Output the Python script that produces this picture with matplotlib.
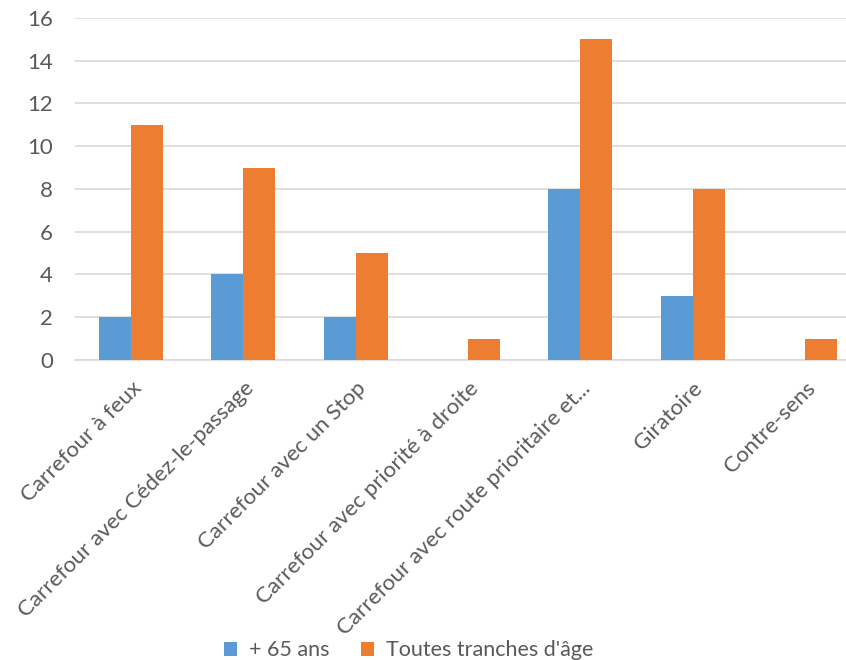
import numpy as np
import matplotlib
matplotlib.use("Agg")
import matplotlib.pyplot as plt

categories = ["Carrefour à feux", "Carrefour avec Cédez-le-passage", "Carrefour avec un Stop",
              "Carrefour avec priorité à droite", "Carrefour avec route prioritaire et...",
              "Giratoire", "Contre-sens"]
seniors = [2, 4, 2, 0, 8, 3, 0]
all_ages = [11, 9, 5, 1, 15, 8, 1]
series_names = ["+ 65 ans", "Toutes tranches d'âge"]
y_ticks = [0, 2, 4, 6, 8, 10, 12, 14, 16]

plt.rcParams['font.family'] = ['Lato', 'DejaVu Sans']
text_color = '#595959'

fig = plt.figure(figsize=(8.46, 6.6), dpi=100)
ax = fig.add_axes([0.0887, 0.4545, 0.929, 0.5185])

x = np.arange(len(categories))
w = 0.285
ax.bar(x - w / 2, seniors, w, color='#5B9BD5', label=series_names[0], zorder=3)
ax.bar(x + w / 2, all_ages, w, color='#ED7D31', label=series_names[1], zorder=3)

ax.set_xlim(-0.5, len(categories) - 0.5)
ax.set_ylim(0, 16)
ax.set_yticks(y_ticks)
ax.yaxis.grid(True, color='#D9D9D9', linewidth=1.2, zorder=0)
ax.set_axisbelow(True)
for s in ['top', 'right', 'left']:
    ax.spines[s].set_visible(False)
ax.spines['bottom'].set_color('#D9D9D9')
ax.spines['bottom'].set_linewidth(1.2)
ax.tick_params(axis='both', length=0, colors=text_color, labelsize=16)
ax.tick_params(axis='y', pad=16)
ax.tick_params(axis='x', pad=13)
ax.set_xticks(x)
ax.set_xticklabels(categories, rotation=45, ha='right', rotation_mode='anchor')

fig.legend(loc='lower center', ncol=2, frameon=False, fontsize=15.5,
           bbox_to_anchor=(0.483, -0.03), handlelength=0.6, handleheight=0.6,
           columnspacing=1.5, handletextpad=0.55, labelcolor=text_color)

fig.savefig('out.png', dpi=100)
